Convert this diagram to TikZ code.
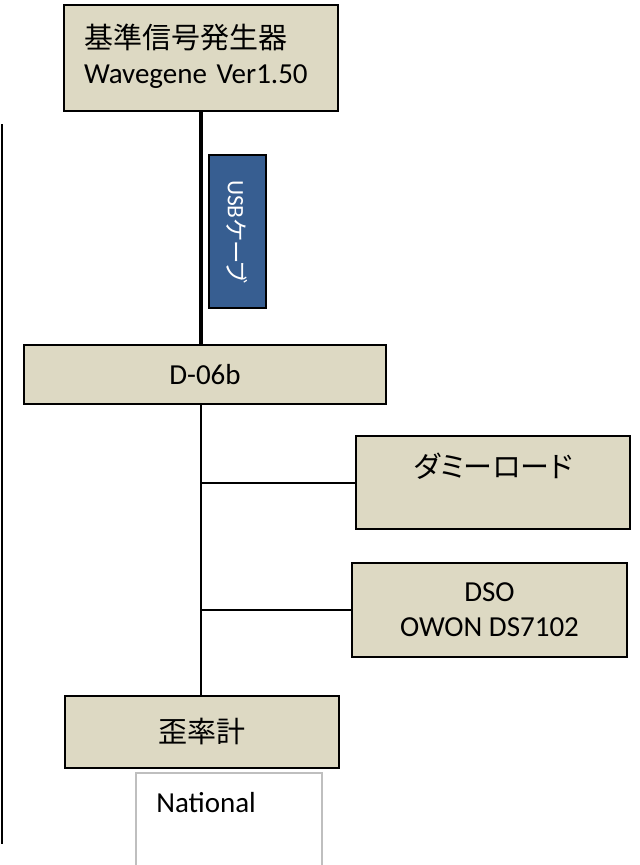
\documentclass[tikz,border=0pt]{standalone}
\usepackage{fontspec}
\setmainfont{Carlito}
\newfontfamily\jp{Noto Sans CJK JP}
\newfontfamily\jpkana[RawFeature=+palt]{Noto Sans CJK JP}
\definecolor{boxtan}{RGB}{221,217,195}
\definecolor{usbblue}{RGB}{55,94,145}
\begin{document}
\begin{tikzpicture}[x=1pt,y=-1pt,
  box/.style={draw=black,line width=1.8pt,fill=boxtan,inner sep=0pt,align=center,font=\fontsize{29}{35}\selectfont},
  wire/.style={line width=2pt}]
\useasboundingbox (0,0) rectangle (640,865);
\node[box,minimum width=274,minimum height=106,inner xsep=20pt,text width=234,align=left] (gen) at (201,58) {{\jp 基準信号発生器}\\Wavegene Ver1.50\\[-27pt]\mbox{}};
\node[fill=usbblue,draw=black,line width=1.2pt,minimum width=153,minimum height=57,rotate=-90,text=white,font=\fontsize{23.5}{26}\selectfont] (usb) at (237.5,231.5) {USB{\jpkana ケーブ}};
\node[box,minimum width=362,minimum height=59] (d06) at (205,374.5) {D-06b};
\node[box,minimum width=274,minimum height=93] (dummy) at (493,482.5) {{\jpkana ダミーロード}\\\mbox{}};
\node[box,minimum width=275,minimum height=94] (dso) at (489.5,610) {DSO\\OWON DS7102};
\node[box,minimum width=274,minimum height=72] (thd) at (202,732) {\jp 歪率計};
\node[draw=black!25,line width=1.8pt,fill=white,minimum width=186,minimum height=120] (nat) at (229,833) {};
\node[anchor=base west,inner sep=0pt,font=\fontsize{29}{35}\selectfont] (natname) at ([shift={(21,40)}]nat.north west) {National};
\coordinate (lt) at (1.5,124);
\coordinate (lb) at (1.5,844);
\draw[wire] (lt) -- (lb);
\draw[line width=3.2pt] (gen.south) -- (gen.south |- d06.north);
\draw[wire] (d06.south -| gen.south) -- (gen.south |- thd.north);
\draw[wire] (gen.south |- dummy.west) -- (dummy.west);
\draw[wire] (gen.south |- dso.west) -- (dso.west);
\end{tikzpicture}
\end{document}
